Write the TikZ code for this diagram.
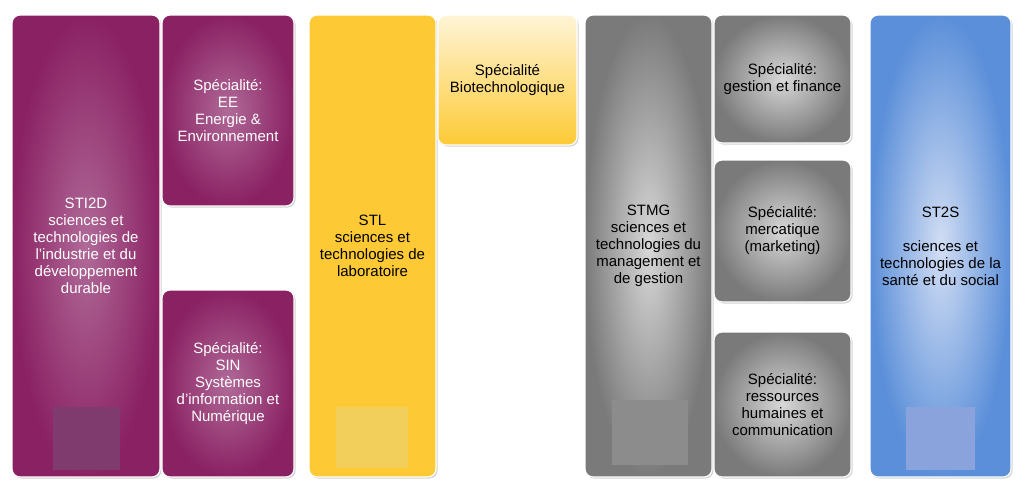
\documentclass[tikz,border=0pt]{standalone}
\usepackage{fontspec}
\setmainfont{Liberation Sans}
\usetikzlibrary{shadows,shadings}
\definecolor{pout}{HTML}{8A2163}\definecolor{pin}{HTML}{B06A98}
\definecolor{gout}{HTML}{7A7A7A}\definecolor{gin}{HTML}{D8D8D8}
\definecolor{bout}{HTML}{5B8FD9}\definecolor{bin}{HTML}{D2DEF4}
\definecolor{yel}{HTML}{FDCA35}
\definecolor{sqp}{HTML}{7F3A6E}\definecolor{sqy}{HTML}{F2CF5A}
\definecolor{sqg}{HTML}{8C8C8C}\definecolor{sqb}{HTML}{8AA3DD}
\tikzset{
 box/.style={rounded corners=8pt, draw=white, line width=1.2pt, align=center, inner sep=2pt,
   font=\fontsize{15}{17}\selectfont, drop shadow={shadow xshift=1.5pt,shadow yshift=-1.5pt,opacity=0.35}},
 pbox/.style={box, inner color=pin, outer color=pout, text=white},
 gbox/.style={box, inner color=gin, outer color=gout},
 bbox/.style={box, inner color=bin, outer color=bout},
 ybox/.style={box, fill=yel},
 sq/.style={inner sep=0pt, draw=none, anchor=north west}
}
\begin{document}
\begin{tikzpicture}[x=1pt,y=1pt]
\useasboundingbox (0,0) rectangle (1024,-491);
\node[pbox, minimum width=148, minimum height=462] (sti) at (86,-246) {STI2D\\sciences et\\technologies de\\l'industrie et du\\développement\\durable};
\node[pbox, minimum width=132, minimum height=191] (ee) at (228,-110.5) {Spécialité:\\EE\\Energie \&\\Environnement};
\node[pbox, minimum width=132, minimum height=187] (sin) at (228,-383.5) {Spécialité:\\SIN\\Systèmes\\d'information et\\Numérique};
\node[ybox, minimum width=127, minimum height=462] (stl) at (372.5,-246) {STL\\sciences et\\technologies de\\laboratoire};
\node[box, top color=yel!20, bottom color=yel, minimum width=139, minimum height=130] (bio) at (507.5,-80) {Spécialité\\Biotechnologique};
\node[gbox, minimum width=127, minimum height=462] (stmg) at (648.5,-246) {STMG\\sciences et\\technologies du\\management et\\de gestion};
\node[gbox, minimum width=137, minimum height=128] (gf) at (782.5,-79) {Spécialité:\\gestion et finance};
\node[gbox, minimum width=137, minimum height=142] (merc) at (782.5,-231) {Spécialité:\\mercatique\\(marketing)};
\node[gbox, minimum width=137, minimum height=145] (rh) at (782.5,-404.5) {Spécialité:\\ressources\\humaines et\\communication};
\node[bbox, minimum width=141, minimum height=462] (st2s) at (940.5,-246) {ST2S\\[17pt]sciences et\\technologies de la\\santé et du social};
\node[sq, fill=sqp, minimum width=67, minimum height=63] (s1) at (53,-407) {};
\node[sq, fill=sqy, minimum width=72, minimum height=61] (s2) at (336,-407) {};
\node[sq, fill=sqg, minimum width=76, minimum height=65] (s3) at (612,-400) {};
\node[sq, fill=sqb, minimum width=69, minimum height=63] (s4) at (906,-407) {};
\end{tikzpicture}
\end{document}
